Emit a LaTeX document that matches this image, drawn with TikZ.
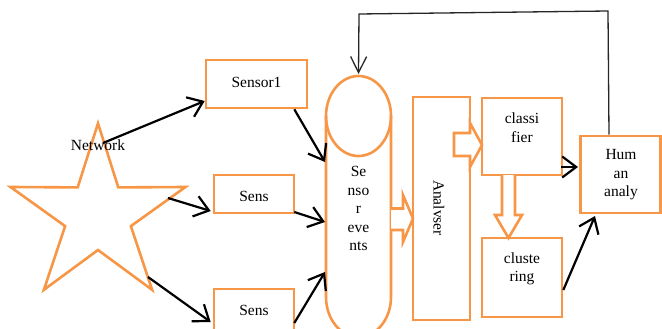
\documentclass[tikz,border=0pt]{standalone}
\usepackage{fontspec}
\setmainfont{Liberation Serif}
\usetikzlibrary{arrows.meta}
\definecolor{boxorange}{RGB}{247,150,70}
\tikzset{
  obox/.style={draw=boxorange, line width=2.6pt, fill=white, rectangle, inner sep=0pt},
  oline/.style={draw=boxorange, line width=2.6pt},
  blk/.style={draw=boxorange, line width=2.6pt, fill=white, line join=miter},
  txt/.style={font=\fontsize{15.5}{18.5}\selectfont, align=center, inner sep=0pt, text=black},
  conn/.style={draw=black, line width=2.2pt, -{Straight Barb[length=14pt,width=21pt]}},
  fback/.style={draw=black!85, line width=1.3pt, -{Straight Barb[length=16pt,width=16pt]}}
}
\begin{document}
\begin{tikzpicture}[x=1pt,y=-1pt]
\useasboundingbox (0,0) rectangle (662,329);
\clip (0,0) rectangle (662,329);
% star
\draw[oline, line join=miter] (98,123.4) -- (118.3,187.4) -- (185.5,187.0) -- (130.9,226.1) -- (152.1,289.8)
  -- (98,250.0) -- (43.9,289.8) -- (65.1,226.1) -- (10.5,187.0) -- (77.7,187.4) -- cycle;
\node[txt] (net) at (98,145) {Network};
\coordinate (st1) at (103,143);
\coordinate (st2) at (168,198);
\coordinate (st3) at (148,277);
% sensor boxes
\node[obox, minimum width=101pt, minimum height=48pt] (s1) at (256.5,84) {};
\node[txt] (s1t) at (256.5,82) {Sensor1};
\node[obox, minimum width=80pt, minimum height=38pt] (s2) at (254,194) {};
\node[txt] (s2t) at (254,196) {Sens};
\node[obox, minimum width=80pt, minimum height=44pt] (s3) at (254,311) {};
\node[txt] (s3t) at (254,310) {Sens};
% capsule (sensor events)
\draw[oline, fill=white] (326,116) .. controls (326,93.9) and (340.6,76) .. (358.5,76)
  .. controls (376.4,76) and (391,93.9) .. (391,116) -- (391,297)
  .. controls (391,319.1) and (376.4,337) .. (358.5,337)
  .. controls (340.6,337) and (326,319.1) .. (326,297) -- cycle;
\draw[oline] (326,116) .. controls (326,138.1) and (340.6,156) .. (358.5,156)
  .. controls (376.4,156) and (391,138.1) .. (391,116);
\node[txt] (ev) at (358.5,208.5) {Se\\nso\\r\\eve\\nts};
\coordinate (captop) at (358.5,74);
\coordinate (e1) at (325,162);
\coordinate (e2) at (325,222);
\coordinate (e3) at (325,272);
% analyser
\node[obox, minimum width=57pt, minimum height=223pt] (an) at (441.5,208.5) {};
\node[txt, rotate=-90] (ant) at (439,208) {Analvser};
% classifier, clustering, human
\node[obox, minimum width=80pt, minimum height=77pt] (cl) at (522,136.5) {};
\node[txt] (clt) at (522,127.5) {classi\\fier};
\node[obox, minimum width=80pt, minimum height=79pt] (cu) at (522,277.5) {};
\node[txt] (cut) at (522,269) {cluste\\ring};
\node[obox, minimum width=80pt, minimum height=77pt] (hu) at (620.5,174.5) {};
\node[txt] (hut) at (621,175) {Hum\\an\\analy};
\coordinate (h1) at (578,167);
\coordinate (h2) at (595,216);
% block arrows
\draw[blk] (391,208.5) -- (403,208.5) -- (403,195) -- (413,218.5) -- (403,242) -- (403,230) -- (391,230);
\draw[blk] (454,133) -- (470,133) -- (470,123) -- (482,145) -- (470,167) -- (470,156) -- (454,156) -- cycle;
\draw[blk] (502,175) -- (502,215) -- (495,215) -- (508.5,238) -- (522,215) -- (515,215) -- (515,175);
% connectors
\draw[conn] (st1) -- (s1.west |- 0,101);
\draw[conn] (st2) -- ([xshift=-2pt]s2.west |- 0,211);
\draw[conn] (st3) -- ([xshift=-2pt]s3.west |- 0,322);
\draw[conn] ([xshift=-14pt]s1.south east) -- (e1);
\draw[conn] ([xshift=-1pt]s2.east |- 0,212) -- (e2);
\draw[conn] ([xshift=-1pt]s3.east |- 0,323) -- (e3);
\draw[conn] ([xshift=-2pt]cl.east |- 0,167) -- (h1);
\draw[conn] (cu.east |- 0,290) -- (h2);
\draw[fback] (hu.north -| 609,0) -- (608,11) -- (359,14) -- (captop);
\end{tikzpicture}
\end{document}
